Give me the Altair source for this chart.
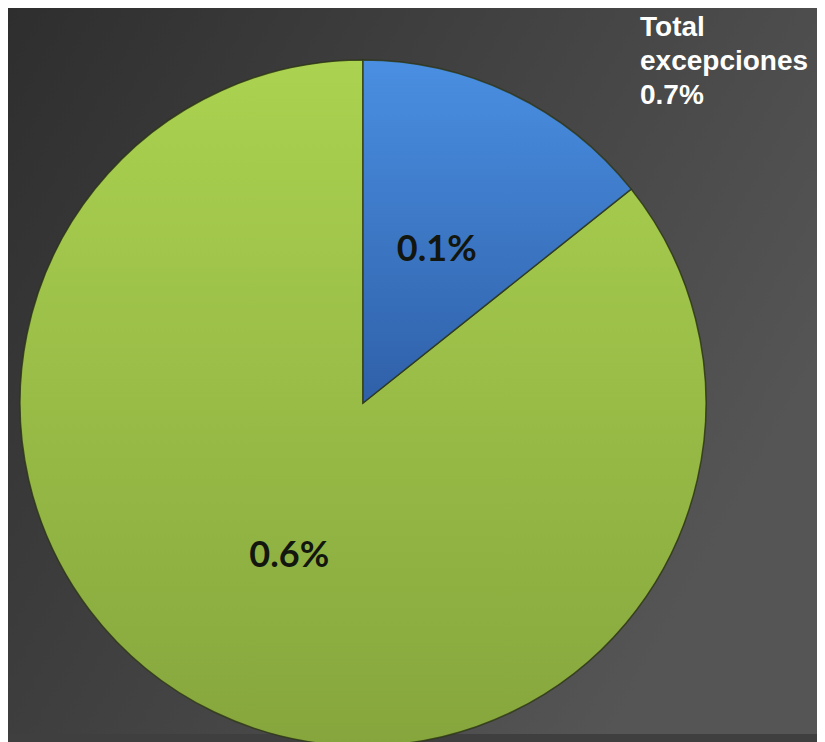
import math
import altair as alt
import pandas as pd

# ---- data ----
categories = ["Excepciones tipo A", "Excepciones tipo B"]
values = [0.1, 0.6]
labels = ["0.1%", "0.6%"]
title_lines = ["Total", "excepciones", "0.7%"]
total = 0.7

df = pd.DataFrame({"cat": categories, "value": values, "label": labels, "order": [0, 1]})
df_title = pd.DataFrame({"t": ["\n".join(title_lines)]})
df_bg = pd.DataFrame({"k": [0]})

W, H = 809, 726
CX, CY, R = 355, 395, 343

theta_scale = alt.Scale(domain=[0, total], range=[0, 2 * math.pi])

base = (
    alt.Chart(df)
    .transform_window(end="sum(value)", sort=[alt.SortField("order")], frame=[None, 0])
    .transform_calculate(start="datum.end - datum.value", mid="datum.end - datum.value / 2")
)

bg_grad = alt.LinearGradient(
    gradient="linear",
    stops=[alt.GradientStop(color="#2e2e2e", offset=0), alt.GradientStop(color="#555555", offset=1)],
    x1=0, y1=0, x2=1, y2=0.5,
)
blue_grad = alt.LinearGradient(
    gradient="linear",
    stops=[alt.GradientStop(color="#4a8fe2", offset=0), alt.GradientStop(color="#2f60a8", offset=1)],
    x1=0, y1=0, x2=0, y2=1,
)
green_grad = alt.LinearGradient(
    gradient="linear",
    stops=[alt.GradientStop(color="#abd250", offset=0), alt.GradientStop(color="#86a63d", offset=1)],
    x1=0, y1=0, x2=0, y2=1,
)

bg = alt.Chart(df_bg).mark_rect(fill=bg_grad).encode(
    x=alt.value(0), x2=alt.value(W), y=alt.value(0), y2=alt.value(H)
)

def slice_layer(idx, grad):
    return (
        base.transform_filter(alt.datum.order == idx)
        .mark_arc(fill=grad, radius=R, stroke="#2c3514", strokeWidth=1.5, strokeOpacity=0.8)
        .encode(
            theta=alt.Theta("start:Q", scale=theta_scale),
            theta2="end:Q",
            x=alt.value(CX),
            y=alt.value(CY),
        )
    )

green = slice_layer(1, green_grad)
blue = slice_layer(0, blue_grad)

text = base.mark_text(
    font="Lato", fontWeight="bold", fontSize=36, color="#12160e", radius=170
).encode(
    theta=alt.Theta("mid:Q", scale=theta_scale),
    text="label:N",
    x=alt.value(CX),
    y=alt.value(CY),
)

title = alt.Chart(df_title).mark_text(
    font="Liberation Sans", fontWeight="bold", fontSize=28, color="#ffffff",
    align="left", baseline="alphabetic", lineBreak="\n", lineHeight=34,
).encode(text="t:N", x=alt.value(632), y=alt.value(28))

chart = (
    alt.layer(bg, green, blue, text, title)
    .properties(width=W, height=H, padding=0, background="#3f3f3f")
    .configure_view(stroke=None)
)

chart.save("out.html", embed_options={"renderer": "svg", "actions": False})
